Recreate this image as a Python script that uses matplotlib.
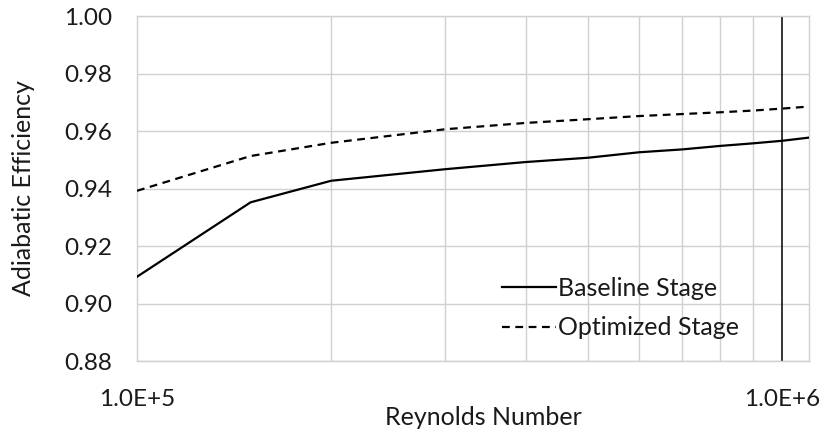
import matplotlib
matplotlib.use("Agg")
import matplotlib.pyplot as plt
import numpy as np

plt.rcParams['font.family'] = ['Lato', 'DejaVu Sans']

reynolds = [1.0e5, 1.5e5, 2.0e5, 3.0e5, 4.0e5, 5.0e5, 6.0e5, 7.0e5, 8.0e5, 9.0e5, 1.0e6, 1.1e6]
baseline = [0.9093, 0.9352, 0.9427, 0.9467, 0.9492, 0.9507, 0.9526, 0.9536, 0.9548, 0.9557, 0.9566, 0.9577]
optimized = [0.9392, 0.9513, 0.9559, 0.9606, 0.9628, 0.9641, 0.9652, 0.9659, 0.9665, 0.9671, 0.9678, 0.9685]
yticks = [0.88, 0.90, 0.92, 0.94, 0.96, 0.98, 1.00]
xtick_vals = [1.0e5, 1.0e6]
xtick_labels = ["1.0E+5", "1.0E+6"]

W, H = 824, 436
fig = plt.figure(figsize=(W/100, H/100), dpi=100)
ax = fig.add_axes([137/W, 1 - 361/H, (809-137)/W, (361-16)/H])

ax.set_xscale('log')
ax.set_xlim(1.0e5, 1.1e6)
ax.set_ylim(0.88, 1.00)

txt_c = '#1a1a1a'
grid_c = '#d0d0d0'
ax.set_yticks(yticks)
ax.set_yticklabels([f"{v:.2f}" for v in yticks])
ax.set_xticks(xtick_vals)
ax.set_xticklabels(xtick_labels)
ax.xaxis.set_minor_locator(matplotlib.ticker.LogLocator(base=10, subs=np.arange(2, 10)))
ax.xaxis.set_minor_formatter(matplotlib.ticker.NullFormatter())
ax.grid(True, which='major', axis='y', color=grid_c, lw=1.0)
ax.grid(True, which='minor', axis='x', color=grid_c, lw=1.0)
ax.tick_params(which='both', length=0)
ax.tick_params(axis='y', pad=18, labelsize=17.5, colors=txt_c)
ax.tick_params(axis='x', pad=20, labelsize=17.5, colors=txt_c)
for s in ax.spines.values():
    s.set_color(grid_c)
    s.set_linewidth(1.0)

ax.axvline(1.0e6, color='black', lw=1.1, zorder=2)

ax.plot(reynolds, baseline, color='black', lw=1.6, label='Baseline Stage', zorder=3)
ax.plot(reynolds, optimized, color='black', lw=1.6, linestyle=(0, (3.5, 2.5)), label='Optimized Stage', zorder=3)

fig.text(483/W, 1 - 417/H, 'Reynolds Number', fontsize=18, color=txt_c, ha='center', va='center')
fig.text(24/W, 1 - 188/H, 'Adiabatic Efficiency', fontsize=18, color=txt_c, ha='center', va='center', rotation=90)

leg = ax.legend(loc='upper left', bbox_to_anchor=(502/W, 1 - 277/H), bbox_transform=fig.transFigure,
                frameon=False, fontsize=18, handlelength=2.16, handletextpad=0.08,
                labelspacing=0.65, borderpad=0.0, borderaxespad=0.0)
for t in leg.get_texts():
    t.set_color(txt_c)

fig.savefig('out.png', dpi=100)
